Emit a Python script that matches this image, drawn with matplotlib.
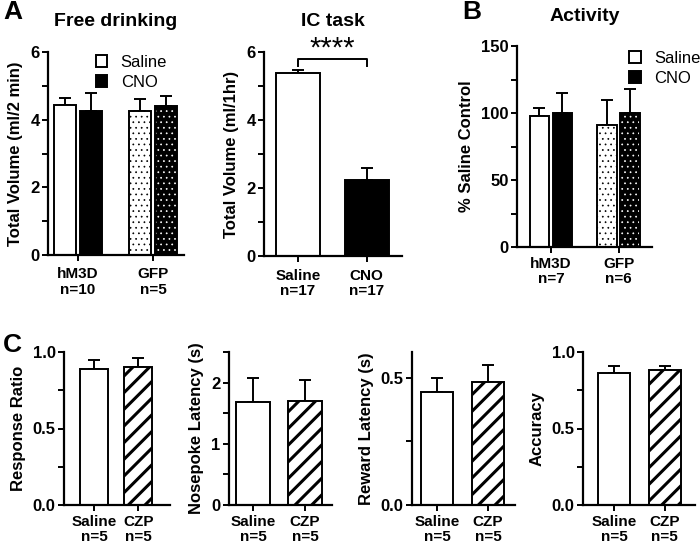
import numpy as np
import matplotlib
matplotlib.use('Agg')
from matplotlib import pyplot as plt
from matplotlib.patches import Patch

plt.rcParams['font.family'] = ['Liberation Sans', 'DejaVu Sans']
plt.rcParams['font.weight'] = 'bold'

# A: free drinking
a1_groups = ['hM3D\nn=10', 'GFP\nn=5']
a1_saline = [4.43, 4.27]
a1_saline_err = [0.22, 0.35]
a1_cno = [4.27, 4.41]
a1_cno_err = [0.53, 0.29]

# A: IC task
a2_labels = ['Saline\nn=17', 'CNO\nn=17']
a2_vals = [5.37, 2.25]
a2_err = [0.10, 0.35]

# B: activity
b_groups = ['hM3D\nn=7', 'GFP\nn=6']
b_saline = [97.8, 91.0]
b_saline_err = [6.2, 18.7]
b_cno = [99.8, 99.8]
b_cno_err = [14.9, 18.2]

# C
c_labels = ['Saline\nn=5', 'CZP\nn=5']
c_resp = [0.889, 0.904]
c_resp_err = [0.059, 0.057]
c_nose = [1.68, 1.70]
c_nose_err = [0.40, 0.34]
c_reward = [0.442, 0.481]
c_reward_err = [0.055, 0.069]
c_acc = [0.866, 0.881]
c_acc_err = [0.041, 0.029]

W, H = 700, 547
fig = plt.figure(figsize=(7, 5.47), dpi=100)


def box(l, r, t, b):
    return [l / W, 1 - b / H, (r - l) / W, (b - t) / H]


def style(ax, ylim, major, minor, xlim, xticks, xlabels, ylabel, fmt=None, xpad=3):
    ax.set_xlim(*xlim)
    ax.set_ylim(*ylim)
    ax.set_yticks(major)
    ax.set_yticks(minor, minor=True)
    if fmt:
        ax.set_yticklabels([fmt % v for v in major])
    ax.set_xticks(xticks)
    ax.set_xticklabels(xlabels, fontsize=11, fontweight='bold', linespacing=1.15)
    for s in ['top', 'right']:
        ax.spines[s].set_visible(False)
    for s in ['left', 'bottom']:
        ax.spines[s].set_linewidth(1.6)
    ax.tick_params(which='both', direction='out', width=1.4, length=4)
    ax.tick_params(axis='y', labelsize=12, pad=2)
    ax.tick_params(axis='x', pad=xpad)
    ax.set_ylabel(ylabel, fontsize=12, fontweight='bold', labelpad=5)


def err(ax, x, h, e):
    ax.errorbar(x, h, yerr=[[0] * len(h), e], fmt='none', ecolor='black',
                elinewidth=1.4, capsize=4.5, capthick=1.4, zorder=1)


def dot_bar(ax, x, h, w, face, dots):
    with plt.rc_context({'hatch.linewidth': 0.5}):
        ax.bar(x, h, w, color=face, edgecolor=dots, hatch='...', linewidth=0, zorder=2)
    ax.bar(x, h, w, color='none', edgecolor='black', linewidth=1.4, zorder=3)


lw = 1.4
handles = [Patch(facecolor='white', edgecolor='black', linewidth=1.4),
           Patch(facecolor='black', edgecolor='black', linewidth=1.4)]
leg_kw = dict(loc='upper left', frameon=False, handlelength=0.7, handleheight=0.7,
              handletextpad=0.8, labelspacing=0.3, prop={'size': 12, 'weight': 'normal'})

# ---- A: Free drinking ----
ax = fig.add_axes(box(48, 184, 52, 255))
x = np.arange(2)
off, w = 0.173, 0.293
err(ax, x - off, a1_saline, a1_saline_err)
err(ax, x + off, a1_cno, a1_cno_err)
ax.bar(x[0] - off, a1_saline[0], w, color='white', edgecolor='black', linewidth=lw, zorder=2)
ax.bar(x[0] + off, a1_cno[0], w, color='black', edgecolor='black', linewidth=lw, zorder=2)
dot_bar(ax, x[1] - off, a1_saline[1], w, 'white', 'black')
dot_bar(ax, x[1] + off, a1_cno[1], w, 'black', 'white')
style(ax, (0, 6), [0, 2, 4, 6], [1, 3, 5], (-0.4, 1.413), x, a1_groups,
      'Total Volume (ml/2 min)', xpad=5)
ax.legend(handles, ['Saline', 'CNO'], bbox_to_anchor=(0.24, 1.06), **leg_kw)
ax.set_title('Free drinking', fontsize=14, fontweight='bold', pad=19)

# ---- A: IC task ----
ax = fig.add_axes(box(264, 402, 52, 256))
x = np.arange(2)
err(ax, x, a2_vals, a2_err)
ax.bar(x, a2_vals, 0.63, color=['white', 'black'], edgecolor='black', linewidth=lw, zorder=2)
style(ax, (0, 6), [0, 2, 4, 6], [1, 3, 5], (-0.49, 1.51), x, a2_labels,
      'Total Volume (ml/1hr)', xpad=5)
ax.plot([0, 0, 1, 1], [5.6, 5.79, 5.79, 5.6], color='black', lw=1.4, clip_on=False)
ax.text(0.5, 5.68, '****', ha='center', va='bottom', fontsize=21, fontweight='normal')
ax.set_title('IC task', fontsize=14, fontweight='bold', pad=19)

# ---- B: Activity ----
ax = fig.add_axes(box(517, 652, 46, 247))
x = np.arange(2)
off, w = 0.17, 0.29
err(ax, x - off, b_saline, b_saline_err)
err(ax, x + off, b_cno, b_cno_err)
ax.bar(x[0] - off, b_saline[0], w, color='white', edgecolor='black', linewidth=lw, zorder=2)
ax.bar(x[0] + off, b_cno[0], w, color='black', edgecolor='black', linewidth=lw, zorder=2)
dot_bar(ax, x[1] - off, b_saline[1], w, 'white', 'black')
dot_bar(ax, x[1] + off, b_cno[1], w, 'black', 'white')
style(ax, (0, 150), [0, 50, 100, 150], [25, 75, 125], (-0.5, 1.49), x, b_groups,
      '% Saline Control')
ax.legend(handles, ['Saline', 'CNO'], bbox_to_anchor=(0.72, 1.05), **leg_kw)
ax.set_title('Activity', fontsize=14, fontweight='bold', pad=18)

# ---- C ----
c_panels = [
    (box(64, 170, 352, 505), c_resp, c_resp_err, (0, 1.0), [0, 0.5, 1.0], [0.25, 0.75],
     (-0.68, 1.72), 'Response Ratio', '%.1f'),
    (box(229, 332, 352, 505), c_nose, c_nose_err, (0, 2.5), [0, 1, 2], [0.5, 1.5, 2.5],
     (-0.46, 1.52), 'Nosepoke Latency (s)', None),
    (box(412, 515, 352, 505), c_reward, c_reward_err, (0, 0.6), [0, 0.5], [0.25],
     (-0.49, 1.53), 'Reward Latency (s)', '%.1f'),
    (box(583, 695, 352, 505), c_acc, c_acc_err, (0, 1.0), [0, 0.5, 1.0], [0.25, 0.75],
     (-0.62, 1.6), 'Accuracy', '%.1f'),
]
for rect, vals, e, ylim, major, minor, xlim, ylabel, fmt in c_panels:
    ax = fig.add_axes(rect)
    x = np.arange(2)
    err(ax, x, vals, e)
    ax.bar(x[0], vals[0], 0.64, color='white', edgecolor='black', linewidth=lw, zorder=2)
    with plt.rc_context({'hatch.linewidth': 2.2}):
        ax.bar(x[1], vals[1], 0.64, color='white', edgecolor='black', linewidth=lw,
               hatch='//', zorder=2)
    style(ax, ylim, major, minor, xlim, x, c_labels, ylabel, fmt)

fig.text(3 / W, 1 - 12 / H, 'A', fontsize=19, fontweight='bold', va='center')
fig.text(462 / W, 1 - 12 / H, 'B', fontsize=19, fontweight='bold', va='center')
fig.text(3 / W, 1 - 345 / H, 'C', fontsize=19, fontweight='bold', va='center')

fig.savefig('out.png', dpi=100)
